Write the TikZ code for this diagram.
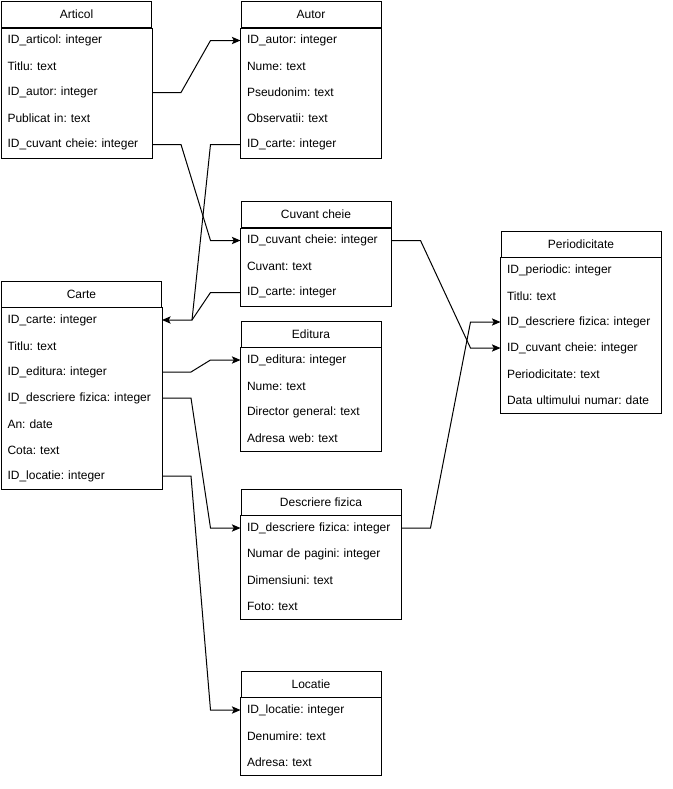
\documentclass[tikz,border=0pt]{standalone}
\usepackage{fontspec}
\setmainfont{Liberation Sans}
\usetikzlibrary{arrows.meta}
\frenchspacing
\tikzset{
  tbl/.style = {draw, anchor = north west, minimum height = 19.5pt, inner sep = 0pt, font = \fontsize{9}{11}\selectfont},
  fld/.style = {anchor = north west, minimum height = 19.5pt, inner xsep = 4.5pt, inner ysep = 0pt, text width = #1, align = left, font = \fontsize{9}{11}\selectfont},
  rel/.style = {-{Stealth[length = 6.5pt, width = 5.5pt, inset = 1.5pt]}}
}
\begin{document}
\begin{tikzpicture}[x = 0.75pt, y = -0.75pt, line width = 0.75pt]
        \useasboundingbox (0,0) rectangle (672,789);
        \node [tbl, minimum width = 112.5pt] (articol) at (1,1) {Articol};
        \node [fld = 103.5pt] (art-id) at (1,27) {ID\_articol: integer};
        \node [fld = 103.5pt] (art-titlu) at (1,53) {Titlu: text};
        \node [fld = 103.5pt] (art-autor) at (1,79) {ID\_autor: integer};
        \node [fld = 103.5pt] (art-publ) at (1,105) {Publicat in: text};
        \node [fld = 103.5pt] (art-cuv) at (1,131) {ID\_cuvant cheie: integer};
        \draw (articol.south west) rectangle (art-cuv.south east);
        \node [tbl, minimum width = 105pt] (autor) at (240.5,1) {Autor};
        \node [fld = 96pt] (aut-id) at (240.5,27) {ID\_autor: integer};
        \node [fld = 96pt] (aut-nume) at (240.5,53) {Nume: text};
        \node [fld = 96pt] (aut-pseud) at (240.5,79) {Pseudonim: text};
        \node [fld = 96pt] (aut-obs) at (240.5,105) {Observatii: text};
        \node [fld = 96pt] (aut-carte) at (240.5,131) {ID\_carte: integer};
        \draw (autor.south west) rectangle (aut-carte.south east);
        \node [tbl, minimum width = 112.5pt] (cuvant) at (240.5,201) {Cuvant cheie};
        \node [fld = 103.5pt] (cuv-id) at (240.5,227) {ID\_cuvant cheie: integer};
        \node [fld = 103.5pt] (cuv-text) at (240.5,253) {Cuvant: text};
        \node [fld = 103.5pt] (cuv-carte) at (240.5,279) {ID\_carte: integer};
        \draw (cuvant.south west) rectangle (cuv-carte.south east);
        \node [tbl, minimum width = 120pt] (carte) at (1,280.5) {Carte};
        \node [fld = 111pt] (car-id) at (1,306.5) {ID\_carte: integer};
        \node [fld = 111pt] (car-titlu) at (1,332.5) {Titlu: text};
        \node [fld = 111pt] (car-edit) at (1,358.5) {ID\_editura: integer};
        \node [fld = 111pt] (car-descr) at (1,384.5) {ID\_descriere fizica: integer};
        \node [fld = 111pt] (car-an) at (1,410.5) {An: date};
        \node [fld = 111pt] (car-cota) at (1,436.5) {Cota: text};
        \node [fld = 111pt] (car-loc) at (1,462.5) {ID\_locatie: integer};
        \draw (carte.south west) rectangle (car-loc.south east);
        \node [tbl, minimum width = 105pt] (editura) at (240.5,320.5) {Editura};
        \node [fld = 96pt] (edi-id) at (240.5,346.5) {ID\_editura: integer};
        \node [fld = 96pt] (edi-nume) at (240.5,372.5) {Nume: text};
        \node [fld = 96pt] (edi-dir) at (240.5,398.5) {Director general: text};
        \node [fld = 96pt] (edi-web) at (240.5,424.5) {Adresa web: text};
        \draw (editura.south west) rectangle (edi-web.south east);
        \node [tbl, minimum width = 120pt] (period) at (500.5,230.5) {Periodicitate};
        \node [fld = 111pt] (per-id) at (500.5,256.5) {ID\_periodic: integer};
        \node [fld = 111pt] (per-titlu) at (500.5,282.5) {Titlu: text};
        \node [fld = 111pt] (per-descr) at (500.5,308.5) {ID\_descriere fizica: integer};
        \node [fld = 111pt] (per-cuv) at (500.5,334.5) {ID\_cuvant cheie: integer};
        \node [fld = 111pt] (per-per) at (500.5,360.5) {Periodicitate: text};
        \node [fld = 111pt] (per-data) at (500.5,386.5) {Data ultimului numar: date};
        \draw (period.south west) rectangle (per-data.south east);
        \node [tbl, minimum width = 120pt] (descriere) at (240.5,488.5) {Descriere fizica};
        \node [fld = 111pt] (des-id) at (240.5,514.5) {ID\_descriere fizica: integer};
        \node [fld = 111pt] (des-pag) at (240.5,540.5) {Numar de pagini: integer};
        \node [fld = 111pt] (des-dim) at (240.5,566.5) {Dimensiuni: text};
        \node [fld = 111pt] (des-foto) at (240.5,592.5) {Foto: text};
        \draw (descriere.south west) rectangle (des-foto.south east);
        \node [tbl, minimum width = 105pt] (locatie) at (240.5,670.5) {Locatie};
        \node [fld = 96pt] (loc-id) at (240.5,696.5) {ID\_locatie: integer};
        \node [fld = 96pt] (loc-den) at (240.5,722.5) {Denumire: text};
        \node [fld = 96pt] (loc-adr) at (240.5,748.5) {Adresa: text};
        \draw (locatie.south west) rectangle (loc-adr.south east);
        % foreign keys
        \draw [rel] (art-autor.east) -- ++(29,0) -- ([xshift = -22.5pt]aut-id.west) -- (aut-id.west);
        \draw [rel] (art-cuv.east) -- ++(29,0) -- ([xshift = -22.5pt]cuv-id.west) -- (cuv-id.west);
        \draw [rel] (aut-carte.west) -- ++(-30,0) -- ([xshift = 22.5pt]car-id.east) -- (car-id.east);
        \draw (cuv-carte.west) -- ++(-30,0) -- ([xshift = 22.5pt]car-id.east);
        \draw [rel] (car-edit.east) -- ++(29,0) -- ([xshift = -22.5pt]edi-id.west) -- (edi-id.west);
        \draw [rel] (car-descr.east) -- ++(29,0) -- ([xshift = -22.5pt]des-id.west) -- (des-id.west);
        \draw [rel] (car-loc.east) -- ++(29,0) -- ([xshift = -22.5pt]loc-id.west) -- (loc-id.west);
        \draw [rel] (cuv-id.east) -- ++(29,0) -- ([xshift = -22.5pt]per-cuv.west) -- (per-cuv.west);
        \draw [rel] (des-id.east) -- ++(29,0) -- ([xshift = -22.5pt]per-descr.west) -- (per-descr.west);
\end{tikzpicture}
\end{document}
